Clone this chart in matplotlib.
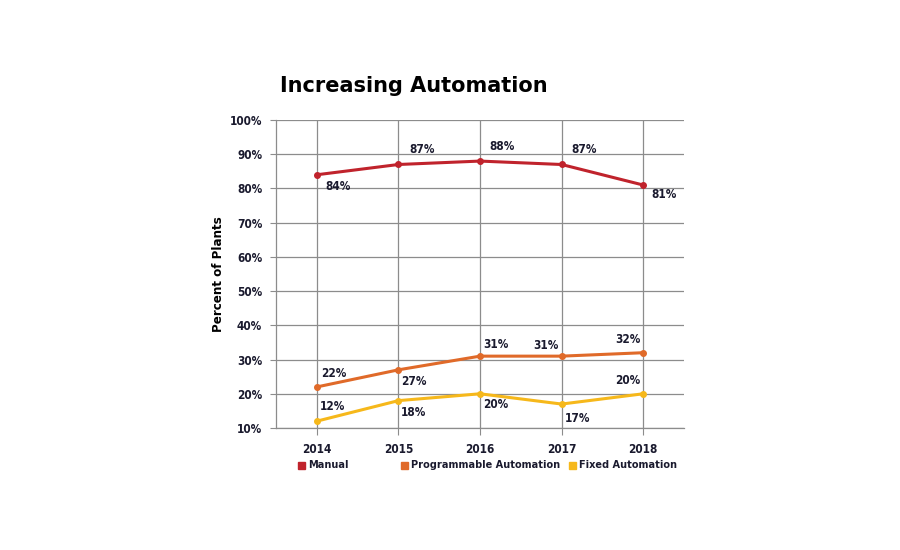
import numpy as np
import matplotlib.pyplot as plt
from matplotlib.patches import Rectangle

plt.rcParams['font.family'] = ['DejaVu Sans']
plt.rcParams['font.stretch'] = 'condensed'

years = ['2014', '2015', '2016', '2017', '2018']
manual = [84, 87, 88, 87, 81]
programmable = [22, 27, 31, 31, 32]
fixed = [12, 18, 20, 17, 20]

series_names = ['Manual', 'Programmable Automation', 'Fixed Automation']
colors = ['#c0232c', '#e06a29', '#f6b81b']

# label offsets (points) per point: (dx, dy, ha, va)
manual_offsets = [(6, -4, 'left', 'top'), (8, 6, 'left', 'bottom'), (7, 6, 'left', 'bottom'),
                  (7, 6, 'left', 'bottom'), (6, -2, 'left', 'top')]
prog_offsets = [(3, 5, 'left', 'bottom'), (2, -4, 'left', 'top'), (2, 4, 'left', 'bottom'),
                (-2, 3, 'right', 'bottom'), (-2, 5, 'right', 'bottom')]
fixed_offsets = [(2, 6, 'left', 'bottom'), (2, -4, 'left', 'top'), (2, -3, 'left', 'top'),
                 (2, -6, 'left', 'top'), (-2, 5, 'right', 'bottom')]

fig = plt.figure(figsize=(9, 5.5), dpi=100)
ax = fig.add_axes([0.3067, 0.2218, 0.4533, 0.56])

x = np.arange(len(years))
grid_color = '#8c8c8c'
text_color = '#1a1a2e'

for vals, col, offs in zip([manual, programmable, fixed], colors,
                           [manual_offsets, prog_offsets, fixed_offsets]):
    ax.plot(x, vals, color=col, lw=2.2, marker='o', ms=4, zorder=3)
    for xi, v, (dx, dy, ha, va) in zip(x, vals, offs):
        ax.annotate(f'{v}%', (xi, v), xytext=(dx, dy), textcoords='offset points',
                    ha=ha, va=va, fontsize=8.5, fontweight='bold', color=text_color)

ax.set_xlim(-0.5, 4.5)
ax.set_ylim(10, 100)
ax.set_yticks(range(10, 101, 10))
ax.set_yticklabels([f'{v}%' for v in range(10, 101, 10)])
ax.set_xticks(x)
ax.set_xticklabels(years)
ax.grid(True, color=grid_color, lw=0.9)
ax.set_axisbelow(True)
for s in ['top', 'right']:
    ax.spines[s].set_visible(False)
for s in ['left', 'bottom']:
    ax.spines[s].set_color(grid_color)
    ax.spines[s].set_linewidth(0.9)
ax.tick_params(axis='y', length=4, color=grid_color, pad=6, labelsize=8.5)
ax.tick_params(axis='x', length=5, color=grid_color, pad=6, labelsize=8.5)
for lab in ax.get_xticklabels() + ax.get_yticklabels():
    lab.set_fontweight('bold')
    lab.set_color(text_color)

ax.set_ylabel('Percent of Plants', fontsize=9.5, fontweight='bold', labelpad=3)

fig.text(0.311, 0.843, 'Increasing Automation', fontsize=15, fontweight='bold',
         stretch='normal', va='center', ha='left')

# legend
leg_x = [0.331, 0.446, 0.632]
for lx, name, col in zip(leg_x, series_names, colors):
    fig.add_artist(Rectangle((lx, 0.148), 0.0075, 0.0123, transform=fig.transFigure,
                             color=col))
    fig.text(lx + 0.011, 0.154, name, fontsize=7.8, fontweight='bold',
             va='center', ha='left', color=text_color)

fig.savefig('out.png', dpi=100)
